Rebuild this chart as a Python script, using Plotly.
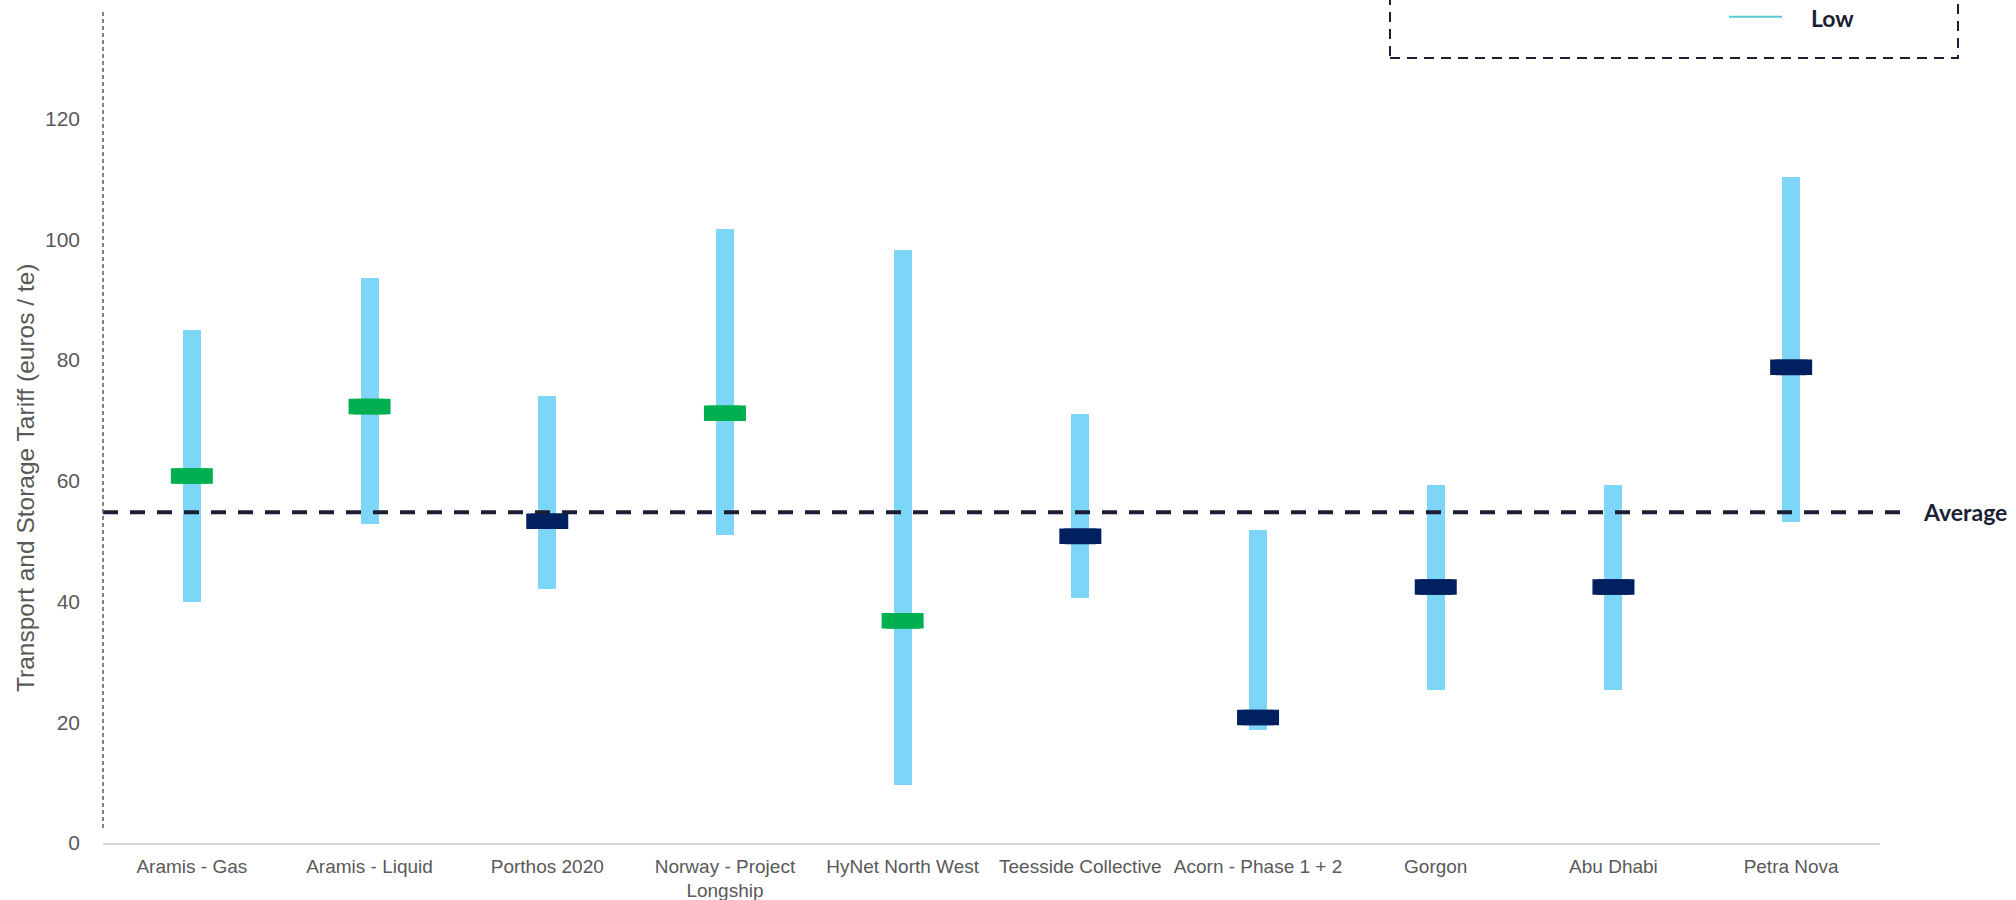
import plotly.graph_objects as go

categories = ["Aramis - Gas", "Aramis - Liquid", "Porthos 2020", "Norway - Project<br>Longship",
              "HyNet North West", "Teesside Collective", "Acorn - Phase 1 + 2", "Gorgon",
              "Abu Dhabi", "Petra Nova"]
low_values = [40.0, 52.9, 42.0, 51.0, 9.6, 40.6, 18.8, 25.4, 25.4, 53.2]
high_values = [85.0, 93.6, 74.0, 101.7, 98.2, 71.0, 51.8, 59.3, 59.3, 110.3]
mid_values = [60.8, 72.3, 53.3, 71.2, 36.8, 50.8, 20.8, 42.4, 42.4, 78.8]
mid_groups = ["green", "green", "navy", "green", "green", "navy", "navy", "navy", "navy", "navy"]
average_value = 54.8
y_ticks = [0, 20, 40, 60, 80, 100, 120]

GROUP_COLORS = {"green": "#00b050", "navy": "#002060"}
BAR_COLOR = "#7dd6f7"
DARK = "#1b1f33"
GREY = "#595959"

W, H = 2016, 900
L, R, T, B = 103, 136, 10, 57
PW, PH = W - L - R, H - T - B
Y_MAX = 138.0


def px_x(p):
    return (p - L) / PW


def px_y(p):
    return (H - B - p) / PH


fig = go.Figure()

fig.add_trace(go.Bar(
    x=categories,
    base=low_values,
    y=[h - l for h, l in zip(high_values, low_values)],
    width=18 / (PW / len(categories)),
    marker=dict(color=BAR_COLOR, line=dict(width=0)),
    name="Range",
    showlegend=False,
    hoverinfo="skip",
))

mid_colors = [GROUP_COLORS[g] for g in mid_groups]
fig.add_trace(go.Scatter(
    x=categories,
    y=mid_values,
    mode="markers",
    marker=dict(symbol="line-ew", size=30, color=mid_colors,
                line=dict(width=15.5, color=mid_colors)),
    showlegend=False,
    name="Central",
))

# rounded-rectangle glyph (pixel units) anchored at each central value
MW, MH, MR = 19, 7.8, 4.5
glyph = (f"M{-MW + MR},{-MH} H{MW - MR} Q{MW},{-MH} {MW},{-MH + MR} V{MH - MR} "
         f"Q{MW},{MH} {MW - MR},{MH} H{-MW + MR} Q{-MW},{MH} {-MW},{MH - MR} "
         f"V{-MH + MR} Q{-MW},{-MH} {-MW + MR},{-MH} Z")
for cat, val, col in zip(categories, mid_values, mid_colors):
    fig.add_shape(type="path", xref="x", yref="y",
                  xsizemode="pixel", ysizemode="pixel", xanchor=cat, yanchor=val,
                  path=glyph, fillcolor=col, line=dict(width=0), layer="above")

# Average line
fig.add_shape(type="line", xref="paper", yref="y",
              x0=0, x1=px_x(1900), y0=average_value, y1=average_value,
              line=dict(color=DARK, width=4, dash="15px,12px"), layer="above")
fig.add_annotation(xref="paper", yref="y", x=px_x(1921), y=average_value,
                   text="<b>Average</b>", showarrow=False, xanchor="left", yanchor="middle",
                   font=dict(family="Lato", size=23, color=DARK))

# Left dashed axis line
fig.add_shape(type="line", xref="paper", yref="y",
              x0=0, x1=0, y0=2.5, y1=Y_MAX,
              line=dict(color=GREY, width=1.5, dash="4px,3px"))

# Y axis title
fig.add_annotation(xref="paper", yref="paper", x=px_x(25), y=px_y(478),
                   text="Transport and Storage Tariff (euros / te)", textangle=-90,
                   showarrow=False, xanchor="center", yanchor="middle",
                   font=dict(family="Liberation Sans, Arial", size=24.5, color=GREY))

# Legend box (partially visible)
fig.add_shape(type="rect", xref="paper", yref="paper",
              x0=px_x(1390), x1=px_x(1958), y0=px_y(58), y1=px_y(-60),
              line=dict(color=DARK, width=2, dash="10px,7px"), fillcolor="rgba(0,0,0,0)")
fig.add_shape(type="line", xref="paper", yref="paper",
              x0=px_x(1729), x1=px_x(1782), y0=px_y(16.7), y1=px_y(16.7),
              line=dict(color="#5bc8d8", width=2))
fig.add_annotation(xref="paper", yref="paper", x=px_x(1809), y=px_y(18),
                   text="<b>Low</b>", showarrow=False, xanchor="left", yanchor="middle",
                   font=dict(family="Lato", size=23, color=DARK))

fig.update_layout(
    width=W, height=H,
    margin=dict(l=L, r=R, t=T, b=B, autoexpand=False),
    plot_bgcolor="white", paper_bgcolor="white",
    showlegend=False,
    bargap=0,
)
fig.update_xaxes(
    type="category",
    range=[-0.5, len(categories) - 0.5],
    showline=True, linecolor="#d9d9d9", linewidth=1.5,
    showgrid=False, zeroline=False, ticks="",
    tickangle=0, automargin=False,
    tickfont=dict(family="Liberation Sans, Arial", size=19, color=GREY),
    ticklabelstandoff=5,
)
fig.update_yaxes(
    range=[0, Y_MAX],
    tickvals=y_ticks,
    showline=False, showgrid=False, zeroline=False, ticks="",
    automargin=False,
    tickfont=dict(family="Liberation Sans, Arial", size=21, color=GREY),
    ticklabelstandoff=22,
)

fig.write_html("out.html", config={"displayModeBar": False},
               post_script="document.body.style.margin='0px';")
